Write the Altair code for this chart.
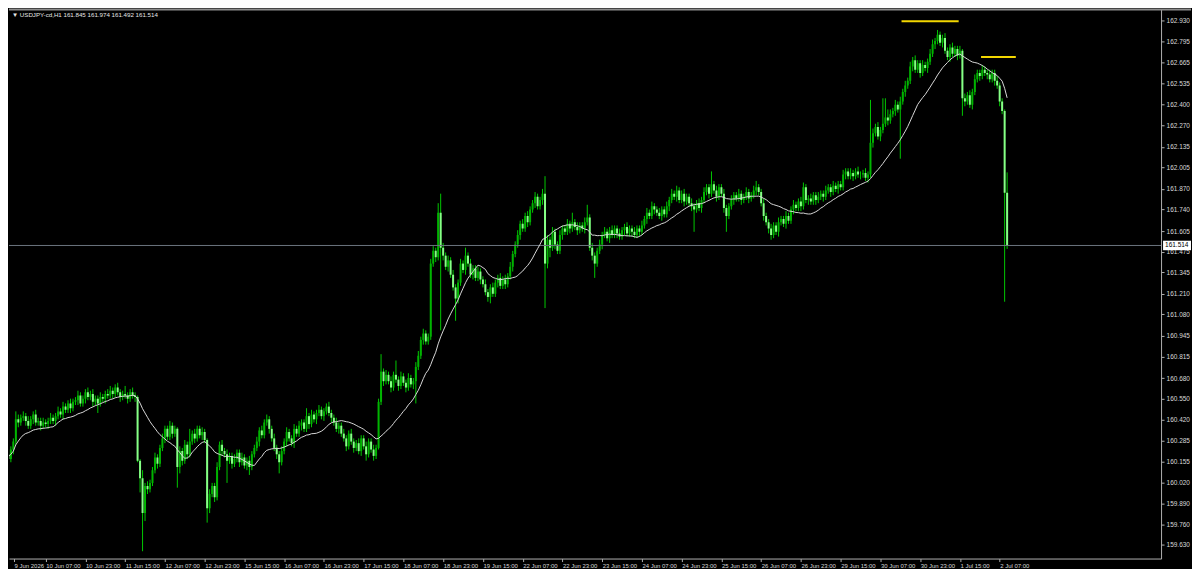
import json
import altair as alt
import pandas as pd

SYMBOL = "USDJPY-cd,H1"
X_LABELS = ["9 Jun 2026", "10 Jun 07:00", "10 Jun 23:00", "11 Jun 15:00", "12 Jun 07:00",
            "12 Jun 23:00", "15 Jun 15:00", "16 Jun 07:00", "16 Jun 23:00", "17 Jun 15:00",
            "18 Jun 07:00", "18 Jun 23:00", "19 Jun 15:00", "22 Jun 07:00", "22 Jun 23:00",
            "23 Jun 15:00", "24 Jun 07:00", "24 Jun 23:00", "25 Jun 15:00", "26 Jun 07:00",
            "26 Jun 23:00", "29 Jun 15:00", "30 Jun 07:00", "30 Jun 23:00", "1 Jul 15:00",
            "2 Jul 07:00"]
BARS_PER_LABEL = 16

Y_TICKS = [162.930, 162.795, 162.665, 162.535, 162.400, 162.270, 162.135, 162.005, 161.870,
           161.740, 161.605, 161.475, 161.345, 161.210, 161.080, 160.945, 160.815, 160.680,
           160.550, 160.420, 160.285, 160.155, 160.020, 159.890, 159.760, 159.630, 159.500]

FIRST_OPEN = 160.22
CLOSE = [
    160.20, 160.17, 160.23, 160.28, 160.42, 160.40,
    160.43, 160.44, 160.41, 160.38, 160.42, 160.45, 160.40, 160.41,
    160.38, 160.40, 160.39, 160.41, 160.43, 160.41,
    160.44, 160.47, 160.45, 160.50, 160.48, 160.52, 160.49, 160.53,
    160.54, 160.57, 160.52, 160.55, 160.59,
    160.56, 160.58, 160.53, 160.55, 160.52, 160.56, 160.55, 160.58,
    160.57, 160.60, 160.58, 160.62, 160.59, 160.56, 160.58, 160.57, 160.55, 160.59, 160.57, 160.56,
    160.16, 160.05, 159.83, 160.00, 159.98, 160.02,
    160.10, 160.18, 160.14, 160.24, 160.30,
    160.36, 160.31, 160.38, 160.33, 160.36,
    160.12,
    160.22, 160.16, 160.26, 160.20,
    160.28, 160.33, 160.30, 160.36, 160.32, 160.34, 160.29,
    159.86,
    159.95, 160.00, 159.93,
    160.12, 160.26, 160.22,
    160.20, 160.16, 160.19, 160.14, 160.17, 160.21, 160.15, 160.18, 160.13,
    160.16, 160.12, 160.20, 160.24,
    160.28, 160.35, 160.32, 160.40,
    160.42, 160.36,
    160.30, 160.24, 160.20, 160.15, 160.22,
    160.28, 160.34, 160.30, 160.27, 160.36, 160.33, 160.38,
    160.40, 160.36, 160.44, 160.39, 160.45, 160.42,
    160.46, 160.48, 160.44, 160.47, 160.50, 160.46, 160.43,
    160.40, 160.36, 160.38, 160.33,
    160.30, 160.25, 160.33, 160.28, 160.24,
    160.27, 160.22, 160.30, 160.25, 160.20, 160.28, 160.23, 160.19, 160.24,
    160.53,
    160.72, 160.66, 160.70,
    160.66, 160.62, 160.70, 160.67, 160.63, 160.69, 160.65, 160.62, 160.68, 160.64, 160.66,
    160.75, 160.82,
    160.92, 160.96, 160.91, 160.94,
    161.40,
    161.48, 161.44,
    161.72,
    161.50,
    161.45, 161.38, 161.42, 161.33,
    161.25, 161.18, 161.28,
    161.40, 161.36, 161.45, 161.40,
    161.33, 161.37, 161.31, 161.35, 161.30,
    161.27, 161.22, 161.19, 161.25, 161.21,
    161.28, 161.31, 161.26, 161.30, 161.27, 161.32,
    161.38, 161.46, 161.52, 161.58, 161.65,
    161.62, 161.70, 161.66, 161.74,
    161.78, 161.82, 161.76, 161.80, 161.84,
    161.40,
    161.55, 161.50, 161.60, 161.52, 161.48, 161.58,
    161.62, 161.60, 161.65, 161.62, 161.66, 161.63, 161.61, 161.64, 161.62,
    161.66, 161.69,
    161.50,
    161.45, 161.40, 161.48, 161.52,
    161.58, 161.60, 161.56, 161.61, 161.58, 161.62, 161.59, 161.57, 161.61, 161.63, 161.59,
    161.62, 161.60, 161.58, 161.62, 161.60, 161.64,
    161.68, 161.72, 161.70, 161.76, 161.74, 161.72,
    161.70, 161.74, 161.71, 161.76,
    161.80, 161.84, 161.82, 161.86, 161.80, 161.84, 161.79, 161.82, 161.78,
    161.76, 161.74, 161.78, 161.75, 161.80,
    161.85, 161.88, 161.84, 161.90,
    161.86, 161.82, 161.88, 161.84,
    161.75, 161.70, 161.76,
    161.80, 161.83, 161.81, 161.84, 161.80, 161.82, 161.85, 161.81, 161.83,
    161.86, 161.88, 161.85,
    161.78, 161.70, 161.66,
    161.62, 161.58, 161.64, 161.60, 161.66,
    161.68, 161.65, 161.70, 161.67,
    161.74, 161.77, 161.75, 161.79, 161.76, 161.88, 161.80,
    161.81, 161.79, 161.83, 161.80, 161.82, 161.84, 161.82,
    161.86, 161.88, 161.85, 161.89, 161.87, 161.90, 161.88,
    161.96, 161.98, 161.95, 161.97, 161.95, 161.98, 161.96,
    161.96, 161.97, 161.94, 161.96,
    162.16,
    162.22, 162.26, 162.20, 162.24, 162.28,
    162.32, 162.30, 162.34,
    162.36, 162.40, 162.37,
    162.42, 162.48, 162.52, 162.55,
    162.64, 162.68, 162.62, 162.66, 162.60, 162.65, 162.63, 162.67,
    162.72, 162.78,
    162.80, 162.84, 162.79, 162.82,
    162.74, 162.70, 162.76, 162.72, 162.75, 162.71, 162.74,
    162.44,
    162.42, 162.46, 162.40, 162.48,
    162.56, 162.60, 162.58, 162.62, 162.60,
    162.59, 162.56, 162.60, 162.55, 162.52,
    162.42, 162.36,
    161.845,
    161.514,
]

# wick lengths above / below the candle body, in hundredths of a yen
UPPER_WICK = [
    2, 3, 2, 2, 5, 3, 2, 3, 2, 3, 2, 2, 3, 2, 2, 3, 2, 2, 3, 2,
    2, 3, 2, 3, 2, 2, 3, 2, 2, 3, 2, 2, 2, 3, 2, 3, 2, 2, 3, 2,
    2, 3, 3, 2, 2, 3, 2, 2, 5, 2, 2, 3, 2, 1, 1, 5, 2, 3, 2, 2,
    3, 2, 2, 3, 2, 2, 3, 2, 2, 1, 3, 2, 3, 2, 8, 2, 3, 2, 2, 3,
    2, 1, 3, 2, 2, 3, 2, 3, 2, 3, 2, 2, 3, 2, 2, 3, 2, 2, 3, 2,
    2, 3, 2, 3, 2, 3, 2, 2, 3, 2, 2, 3, 2, 3, 2, 2, 3, 2, 3, 2,
    2, 5, 2, 3, 2, 2, 3, 2, 2, 2, 3, 2, 2, 3, 2, 2, 3, 2, 2, 3,
    2, 2, 3, 2, 2, 3, 2, 2, 3, 2, 2, 11, 2, 3, 2, 3, 2, 9, 2, 3,
    2, 2, 3, 2, 2, 3, 3, 2, 3, 2, 2, 3, 3, 2, 6, 12, 3, 2, 3, 2,
    3, 2, 2, 3, 2, 5, 2, 3, 2, 2, 3, 2, 2, 3, 2, 2, 3, 2, 2, 3,
    2, 3, 2, 3, 2, 2, 3, 2, 3, 2, 3, 2, 2, 3, 2, 2, 3, 11, 3, 2,
    3, 2, 2, 3, 2, 2, 3, 2, 6, 2, 3, 2, 2, 3, 8, 2, 3, 2, 2, 3,
    2, 3, 2, 2, 3, 2, 2, 3, 2, 2, 3, 2, 2, 3, 2, 2, 3, 2, 3, 2,
    3, 2, 2, 3, 2, 2, 3, 2, 3, 2, 3, 2, 2, 3, 2, 2, 3, 2, 2, 3,
    2, 3, 2, 2, 8, 2, 3, 2, 2, 3, 2, 2, 3, 2, 2, 3, 2, 2, 3, 2,
    2, 3, 4, 2, 2, 3, 2, 2, 3, 2, 2, 3, 2, 2, 3, 2, 2, 3, 2, 2,
    3, 3, 2, 2, 3, 2, 2, 3, 2, 2, 3, 2, 2, 3, 2, 2, 2, 3, 2, 2,
    3, 2, 2, 3, 2, 2, 3, 2, 27, 3, 2, 3, 2, 16, 12, 5, 3, 2, 3, 2,
    3, 2, 3, 2, 3, 2, 3, 2, 2, 3, 2, 2, 3, 3, 2, 3, 2, 2, 3, 2,
    2, 3, 2, 2, 3, 1, 3, 2, 3, 2, 3, 2, 2, 3, 2, 2, 3, 2, 2, 3,
    2, 2, 1, 12.9,
]
LOWER_WICK = [
    3, 2, 2, 3, 2, 3, 2, 2, 3, 2, 2, 3, 2, 2, 3, 2, 2, 3, 2, 2,
    3, 2, 2, 3, 2, 2, 3, 2, 2, 3, 2, 2, 3, 2, 2, 3, 2, 6, 2, 2,
    3, 2, 2, 3, 2, 2, 3, 2, 2, 3, 2, 2, 3, 1, 9, 24, 5, 3, 2, 2,
    2, 3, 2, 2, 3, 2, 2, 3, 2, 13, 4, 3, 2, 3, 2, 2, 3, 2, 2, 3,
    2, 9, 3, 2, 3, 2, 2, 3, 2, 14, 2, 3, 2, 2, 3, 2, 2, 3, 5, 2,
    2, 2, 3, 2, 2, 2, 3, 2, 2, 3, 7, 2, 2, 3, 2, 2, 3, 2, 2, 3,
    2, 2, 3, 2, 2, 3, 2, 2, 3, 2, 2, 3, 2, 2, 3, 2, 2, 3, 2, 2,
    3, 2, 2, 3, 2, 4, 2, 2, 3, 2, 1, 2, 3, 2, 2, 3, 2, 2, 3, 2,
    2, 3, 2, 2, 3, 14, 2, 2, 3, 2, 2, 2, 2, 3, 2, 52, 3, 2, 3, 2,
    2, 14, 3, 2, 2, 3, 2, 2, 3, 2, 2, 3, 2, 2, 3, 4, 2, 2, 3, 2,
    2, 3, 2, 2, 3, 2, 2, 3, 2, 2, 3, 2, 2, 3, 2, 2, 3, 28, 3, 6,
    2, 3, 2, 2, 3, 2, 2, 3, 2, 2, 3, 2, 2, 3, 2, 2, 3, 9, 2, 2,
    3, 2, 2, 3, 2, 2, 3, 2, 2, 3, 2, 2, 3, 2, 2, 3, 2, 2, 3, 2,
    2, 3, 2, 2, 3, 2, 2, 3, 2, 2, 3, 2, 2, 3, 2, 2, 3, 14, 2, 2,
    3, 2, 2, 3, 2, 2, 3, 2, 2, 3, 10, 2, 2, 3, 2, 2, 3, 2, 2, 3,
    2, 2, 3, 2, 2, 3, 2, 3, 3, 2, 2, 3, 2, 2, 3, 2, 2, 3, 2, 2,
    3, 2, 2, 3, 2, 2, 3, 2, 2, 3, 2, 2, 3, 2, 2, 3, 2, 2, 3, 2,
    2, 3, 2, 2, 3, 2, 2, 3, 2, 3, 2, 2, 3, 2, 2, 3, 2, 2, 3, 2,
    31, 2, 3, 2, 2, 3, 2, 2, 3, 2, 2, 3, 2, 2, 3, 2, 2, 3, 2, 2,
    3, 2, 2, 3, 2, 11, 3, 2, 2, 3, 2, 2, 3, 2, 2, 3, 2, 2, 3, 2,
    3, 2, 68.5, 2.2,
]

MA_PERIOD = 20
LEVEL_PRICE = [162.925, 162.700]
LEVEL_FROM = [360.5, 392.5]
LEVEL_TO = [383.5, 406.5]

n = min(len(CLOSE), len(UPPER_WICK), len(LOWER_WICK))
opens = [FIRST_OPEN] + CLOSE[:-1]
rows = []
for i in range(n):
    o, c = opens[i], CLOSE[i]
    rows.append(dict(bar=i, open=o, close=c,
                     high=max(o, c) + UPPER_WICK[i] / 100.0,
                     low=min(o, c) - LOWER_WICK[i] / 100.0,
                     dir="up" if c >= o else "down"))
df = pd.DataFrame(rows)
last = rows[-1]
header = "\u25BC  %s  %.3f %.3f %.3f %.3f" % (SYMBOL, last["open"], last["high"], last["low"], last["close"])

W, H = 1154, 550
X_DOM = [3.2544, 462.95]
Y_DOM = [159.544, 162.999]
xs = alt.Scale(domain=X_DOM, nice=False, zero=False)
ys = alt.Scale(domain=Y_DOM, nice=False, zero=False)

x_values = [X_DOM[0]] + [BARS_PER_LABEL * k for k in range(1, len(X_LABELS))]
label_expr = "datum.value < %d ? %s : %s[round(datum.value / %d)]" % (
    BARS_PER_LABEL // 2, json.dumps(X_LABELS[0]), json.dumps(X_LABELS), BARS_PER_LABEL)
y_values = [v for v in Y_TICKS if Y_DOM[0] <= v <= Y_DOM[1]]

x_axis = alt.Axis(values=x_values, labelExpr=label_expr, labelAlign="left", labelPadding=1,
                  labelFontSize=6, title=None, labelOverlap=False, labelFlush=False,
                  labelBound=False, tickCount=len(x_values) + 10)
y_axis = alt.Axis(orient="right", values=y_values, format=".3f", labelPadding=2,
                  labelFontSize=6.5, title=None, labelOverlap=False, labelFlush=False,
                  labelBound=False, tickCount=len(y_values) + 10)

base = alt.Chart(df)
color = alt.Color("dir:N", scale=alt.Scale(domain=["up", "down"], range=["#00B400", "#86FF86"]),
                  legend=None)

wicks = base.mark_rule(clip=True, strokeWidth=1, color="#00C800").encode(
    x=alt.X("bar:Q", scale=xs, axis=x_axis),
    y=alt.Y("low:Q", scale=ys, axis=y_axis),
    y2="high:Q",
)
bodies = base.mark_bar(clip=True, width=2).encode(
    x=alt.X("bar:Q", scale=xs, title=None),
    y=alt.Y("open:Q", scale=ys, title=None),
    y2="close:Q",
    color=color,
)
ma = base.transform_window(
    ma="mean(close)", frame=[-(MA_PERIOD - 1), 0], sort=[alt.SortField("bar")]
).mark_line(clip=True, color="#D8D8D8", strokeWidth=1).encode(
    x=alt.X("bar:Q", scale=xs, title=None),
    y=alt.Y("ma:Q", scale=ys, title=None),
)

price_df = pd.DataFrame({"price": [last["close"]], "label": ["%.3f" % last["close"]]})
bid_line = alt.Chart(price_df).mark_rule(color="#6A747E", strokeWidth=1).encode(
    y=alt.Y("price:Q", scale=ys, title=None), x=alt.value(0), x2=alt.value(W))
price_box = alt.Chart(price_df).mark_point(
    shape="M-1,-0.34L1,-0.34L1,0.34L-1,0.34Z", filled=True, opacity=1,
    color="#FFFFFF", size=784, strokeWidth=0).encode(
    y=alt.Y("price:Q", scale=ys, title=None), x=alt.value(W + 16))
price_txt = alt.Chart(price_df).mark_text(
    align="left", baseline="middle", fontSize=6.5, font="Liberation Sans", color="#000000").encode(
    y=alt.Y("price:Q", scale=ys, title=None), x=alt.value(W + 4), text="label:N")

lv_df = pd.DataFrame({"price": LEVEL_PRICE, "x1": LEVEL_FROM, "x2": LEVEL_TO})
levels = alt.Chart(lv_df).mark_rule(color="#F2D600", strokeWidth=2).encode(
    x=alt.X("x1:Q", scale=xs, title=None), x2="x2:Q",
    y=alt.Y("price:Q", scale=ys, title=None))

hdr_df = pd.DataFrame({"t": [header]})
top_line = alt.Chart(hdr_df).mark_rule(color="#8C8C8C", strokeWidth=2).encode(
    x=alt.value(0), x2=alt.value(W + 30), y=alt.value(0))
header_txt = alt.Chart(hdr_df).mark_text(
    align="left", baseline="top", fontSize=6.2, font="Liberation Sans", color="#E6E6E6").encode(
    x=alt.value(3), y=alt.value(3), text="t:N")

chart = alt.layer(
    wicks, bodies, bid_line, ma, levels, price_box, price_txt, top_line, header_txt
).properties(
    width=W, height=H, background="#000000", padding={"left": 0, "top": 0, "right": 0, "bottom": 0}
).configure_view(
    stroke=None
).configure_axis(
    labelColor="#D8D8D8", labelFont="Liberation Sans", tickColor="#B0B0B0",
    domainColor="#B0B0B0", grid=False, tickSize=3, labelOverlap=False,
    labelFlush=False, labelBound=False
)

chart.save("out.html", embed_options={"renderer": "svg", "actions": False})
